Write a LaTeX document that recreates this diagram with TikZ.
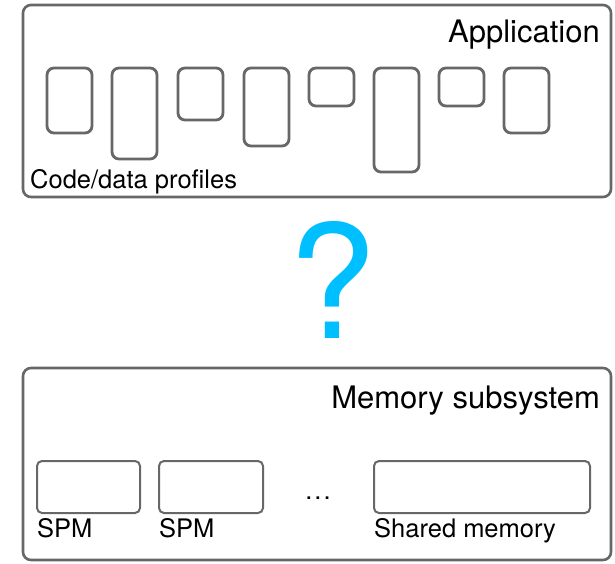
\documentclass[tikz,border=0pt]{standalone}
\usepackage{fontspec}
\setmainfont{TeX Gyre Heros}
\definecolor{boxgray}{HTML}{676767}
\definecolor{qcyan}{HTML}{00BFFF}
\newcommand{\titlesize}{\fontsize{31}{36}\selectfont}
\newcommand{\labelsize}{\fontsize{25.5}{30}\selectfont}
\begin{document}
\begin{tikzpicture}[x=1pt,y=-1pt,
  frame/.style={draw=boxgray, line width=2.6pt, rounded corners=8pt,
    inner sep=0pt, outer sep=0pt, anchor=north west},
  profile/.style={draw=boxgray, line width=2.8pt, rounded corners=7pt,
    inner sep=0pt, outer sep=0pt, anchor=north west, minimum width=45pt},
  mem/.style={draw=boxgray, line width=2pt, rounded corners=5pt,
    inner sep=0pt, outer sep=0pt, anchor=north west, minimum height=52pt},
  title/.style={anchor=base east, font=\titlesize, inner sep=0pt},
  lbl/.style={anchor=base west, font=\labelsize, inner sep=0pt}]
\useasboundingbox (0,0) rectangle (615,563);

% application block with its code/data profiles
\node[frame, minimum width=588pt, minimum height=192pt] (app) at (23,5) {};
\node[title] (apptitle) at (600,42) {Application};
\node[profile, minimum height=65pt] (p1) at (47,68) {};
\node[profile, minimum height=91pt] (p2) at (112,68) {};
\node[profile, minimum height=52pt] (p3) at (178,68) {};
\node[profile, minimum height=78pt] (p4) at (244,68) {};
\node[profile, minimum height=38pt] (p5) at (309,68) {};
\node[profile, minimum height=104pt] (p6) at (374,68) {};
\node[profile, minimum height=38pt] (p7) at (439,68) {};
\node[profile, minimum height=65pt] (p8) at (504,68) {};
\node[lbl] (proflabel) at (30,188) {Code/data profiles};

% open question between the two layers
\node[anchor=base, inner sep=0pt, text=qcyan,
  font=\fontsize{158}{160}\selectfont] (question) at (332,338) {?};

% memory subsystem block
\node[frame, minimum width=588pt, minimum height=192pt] (memsys) at (23,368) {};
\node[title] (memtitle) at (600,408) {Memory subsystem};
\node[mem, minimum width=103pt] (spm1) at (37,461) {};
\node[mem, minimum width=104pt] (spm2) at (159,461) {};
\node[mem, minimum width=216pt] (shared) at (374,461) {};
\node[lbl] (spm1label) at (37,537) {SPM};
\node[lbl] (spm2label) at (159,537) {SPM};
\node[lbl] (sharedlabel) at (374,537) {Shared memory};
\node[anchor=base, inner sep=0pt, font=\labelsize] (dots) at (318,499) {.\kern2pt.\kern2pt.};
\end{tikzpicture}
\end{document}
